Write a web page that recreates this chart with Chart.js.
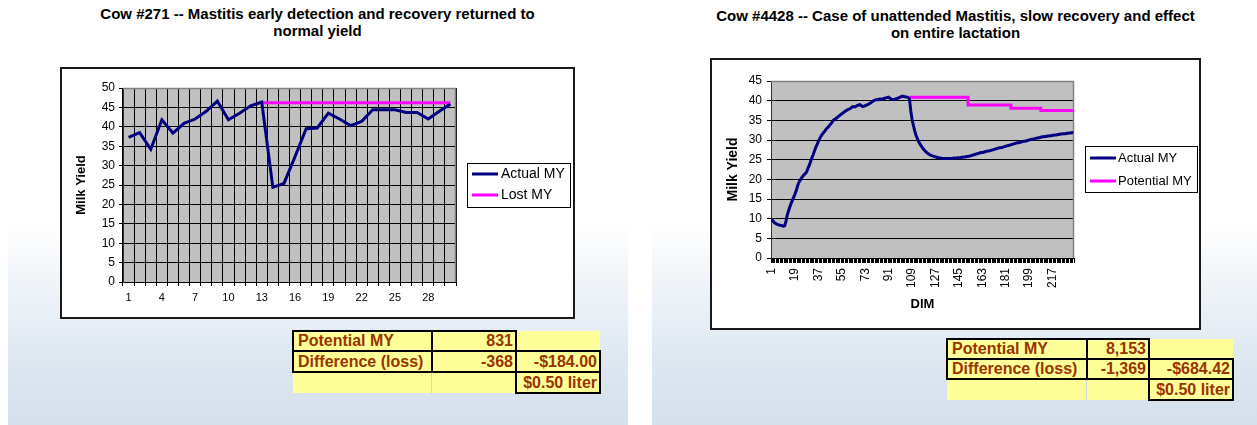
<!DOCTYPE html>
<html>
<head>
<meta charset="utf-8">
<script src="https://cdn.jsdelivr.net/npm/chart.js@4"></script>
<style>
  body { margin:0; width:1257px; height:425px; position:relative; background:#fff; overflow:hidden;
         font-family:'Liberation Sans', Arial, sans-serif; }
  .panel { position:absolute; top:0; height:425px;
           background:linear-gradient(180deg, #ffffff 0%, #ffffff 52%, #eef3f8 68%, #dde7f1 86%, #d3dfeb 100%); }
  .title { position:absolute; text-align:center; font-weight:bold; font-size:15px; line-height:17px; color:#000; }
  .box { position:absolute; background:#fff; }
  .box canvas { position:absolute; left:0; top:0; }
  .frame { position:absolute; left:0; top:0; right:0; bottom:0; border:2px solid #1a1a1a; pointer-events:none; }
  .cell { position:absolute; box-sizing:border-box; background:#ffff99; font-weight:bold; font-size:16px;
          color:#993300; white-space:nowrap; overflow:hidden; display:flex; align-items:center; padding:0 2px 0 4px; }
  .cell.n { justify-content:flex-end; }
  .cell.b { border:2px solid #000; }
  .cell.l { border-right:1px solid #cfd7e3; }
</style>
</head>
<body>
<div class="panel" style="left:8px; width:620px;"></div>
<div class="panel" style="left:652px; width:605px;"></div>

<div class="title" style="left:60px; top:5px; width:515px;">Cow #271 -- Mastitis early detection and recovery returned to<br>normal yield</div>
<div class="title" style="left:710px; top:7px; width:491px;">Cow #4428 -- Case of unattended Mastitis, slow recovery and effect<br>on entire lactation</div>

<div class="box" style="left:60px; top:67px; width:515px; height:252px;">
  <canvas id="cow271" width="515" height="252"></canvas>
  <div class="frame"></div>
</div>
<div class="box" style="left:710px; top:58px; width:491px; height:272px;">
  <canvas id="cow4428" width="491" height="272"></canvas>
  <div class="frame"></div>
</div>

<script>
// Cow #271 - daily milk yield, 30 days
var days271 = [1,2,3,4,5,6,7,8,9,10,11,12,13,14,15,16,17,18,19,20,21,22,23,24,25,26,27,28,29,30];
var actual271 = [37.3, 38.5, 34.2, 41.8, 38.4, 40.9, 42.0, 44.0, 46.6, 41.8,
                 43.5, 45.4, 46.4, 24.4, 25.4, 32.3, 39.5, 39.7, 43.5, 42.0,
                 40.3, 41.4, 44.4, 44.4, 44.4, 43.7, 43.7, 42.0, 44.0, 45.9];
var lost271 = [null, null, null, null, null, null, null, null, null, null,
               null, null, 46.2, 46.2, 46.2, 46.2, 46.2, 46.2, 46.2, 46.2,
               46.2, 46.2, 46.2, 46.2, 46.2, 46.2, 46.2, 46.2, 46.2, 46.2];
var shownDays271 = [1, 4, 7, 10, 13, 16, 19, 22, 25, 28];
var yTicks271 = [0, 50, 5];   // min, max, step
var table271 = [['Potential MY', '831', ''],
                ['Difference (loss)', '-368', '-$184.00'],
                ['', '', '$0.50 liter']];

// Cow #4428 - daily milk yield by DIM
var actual4428 = [
  9.8, 9.4, 9.0, 8.8, 8.6, 8.5, 8.3, 8.3, 8.2, 8.1,
  8.2, 9.3, 10.9, 12.0, 13.0, 13.9, 14.7, 15.5, 16.3, 17.2,
  18.4, 19.3, 19.8, 20.4, 20.8, 21.2, 21.5, 22.0, 22.9, 23.6,
  24.6, 25.5, 26.3, 27.3, 28.2, 28.9, 29.7, 30.4, 31.0, 31.5,
  31.9, 32.3, 32.8, 33.1, 33.5, 33.9, 34.3, 34.8, 35.2, 35.3,
  35.6, 35.9, 36.2, 36.4, 36.7, 36.9, 37.2, 37.4, 37.6, 37.8,
  37.9, 38.1, 38.4, 38.5, 38.4, 38.6, 38.8, 38.9, 39.0, 38.7,
  38.5, 38.6, 38.7, 38.9, 39.0, 39.2, 39.4, 39.7, 39.9, 40.1,
  40.2, 40.3, 40.2, 40.4, 40.4, 40.3, 40.5, 40.6, 40.7, 40.8,
  40.9, 40.6, 40.4, 40.3, 40.3, 40.4, 40.5, 40.6, 40.8, 40.9,
  41.1, 41.1, 41.0, 41.0, 40.9, 40.8, 40.4, 37.4, 35.2, 33.7,
  32.3, 31.2, 30.4, 29.6, 29.0, 28.5, 28.0, 27.6, 27.2, 26.9,
  26.6, 26.4, 26.2, 26.0, 25.9, 25.8, 25.7, 25.6, 25.5, 25.4,
  25.4, 25.3, 25.3, 25.3, 25.3, 25.3, 25.3, 25.3, 25.3, 25.3,
  25.4, 25.4, 25.4, 25.5, 25.5, 25.5, 25.6, 25.6, 25.7, 25.7,
  25.8, 25.8, 25.9, 26.0, 26.1, 26.2, 26.3, 26.4, 26.5, 26.6,
  26.7, 26.8, 26.8, 26.9, 27.0, 27.1, 27.2, 27.2, 27.3, 27.4,
  27.5, 27.6, 27.7, 27.8, 27.9, 28.0, 28.0, 28.1, 28.2, 28.3,
  28.4, 28.5, 28.6, 28.7, 28.8, 28.9, 29.0, 29.1, 29.2, 29.3,
  29.3, 29.4, 29.5, 29.6, 29.7, 29.7, 29.8, 29.9, 30.0, 30.1,
  30.2, 30.2, 30.3, 30.4, 30.5, 30.5, 30.6, 30.7, 30.8, 30.8,
  30.9, 30.9, 31.0, 31.0, 31.1, 31.1, 31.2, 31.2, 31.3, 31.3,
  31.4, 31.4, 31.5, 31.5, 31.6, 31.6, 31.6, 31.7, 31.7, 31.8,
  31.8, 31.9, 31.8
];
// potential yield steps (DIM where level starts, level)
var potentialDim4428 = [107, 152, 185, 208, 233];
var potential4428 = [40.9, 38.9, 38.1, 37.5, 37.5];
var shownDim4428 = [1, 19, 37, 55, 73, 91, 109, 127, 145, 163, 181, 199, 217];
var yTicks4428 = [0, 45, 5];
var table4428 = [['Potential MY', '8,153', ''],
                 ['Difference (loss)', '-1,369', '-$684.42'],
                 ['', '', '$0.50 liter']];

// which cells of the summary tables get a black box
var boxed = [[1, 1, 0], [1, 1, 1], [0, 0, 1]];

var dim4428 = actual4428.map(function(v, i){ return i + 1; });
var potentialPts = potentialDim4428.map(function(d, i){ return {x: d, y: potential4428[i]}; });

function makeTable(rows, colX, rowY){
  for (var r = 0; r < 3; r++) {
    for (var c = 0; c < 3; c++) {
      var d = document.createElement('div');
      var cls = 'cell';
      if (c > 0) cls += ' n';
      if (boxed[r][c]) cls += ' b';
      else if (r === 2 && c === 0) cls += ' l';
      d.className = cls;
      var grow = boxed[r][c] ? 1 : 0;
      d.style.left = (colX[c] - grow) + 'px';
      d.style.top = (rowY[r] - grow) + 'px';
      d.style.width = (colX[c + 1] - colX[c] + 2 * grow) + 'px';
      d.style.height = (rowY[r + 1] - rowY[r] + 2 * grow) + 'px';
      d.textContent = rows[r][c];
      if (!boxed[r][c]) d.style.zIndex = 0; else d.style.zIndex = 1;
      document.body.appendChild(d);
    }
  }
}
makeTable(table271, [293, 432, 516, 600], [331, 351, 372, 393]);
makeTable(table4428, [947, 1087, 1149, 1233], [339, 359, 379, 400]);

Chart.defaults.font.family = "'Liberation Sans', Arial, sans-serif";
Chart.defaults.color = '#000';

var plotFrame = {
  id: 'plotFrame',
  beforeDraw: function(chart){
    var a = chart.chartArea, ctx = chart.ctx;
    ctx.save();
    ctx.fillStyle = '#c0c0c0';
    ctx.fillRect(a.left, a.top, a.right - a.left, a.bottom - a.top);
    ctx.restore();
  },
  beforeDatasetsDraw: function(chart){
    var a = chart.chartArea, ctx = chart.ctx;
    ctx.save();
    ctx.strokeStyle = '#808080';
    ctx.lineWidth = 1.5;
    ctx.beginPath();
    ctx.moveTo(a.left, a.top + 0.5);
    ctx.lineTo(a.right - 0.5, a.top + 0.5);
    ctx.lineTo(a.right - 0.5, a.bottom);
    ctx.stroke();
    ctx.restore();
  },
  afterDraw: function(chart, args, opts){
    var ctx = chart.ctx;
    ctx.save();
    ctx.fillStyle = '#fff';
    ctx.fillRect(opts.x, opts.y, opts.w, opts.h);
    ctx.strokeStyle = '#000';
    ctx.lineWidth = 1;
    ctx.strokeRect(opts.x + 0.5, opts.y + 0.5, opts.w, opts.h);
    ctx.font = opts.fontSize + "px 'Liberation Sans', Arial, sans-serif";
    ctx.textBaseline = 'middle';
    chart.data.datasets.forEach(function(ds, i){
      var y = opts.rows[i];
      ctx.strokeStyle = ds.borderColor;
      ctx.lineWidth = 3;
      ctx.beginPath();
      ctx.moveTo(opts.lineX[0], y);
      ctx.lineTo(opts.lineX[1], y);
      ctx.stroke();
      ctx.fillStyle = '#000';
      ctx.fillText(ds.label, opts.textX, y);
    });
    ctx.restore();
  }
};

function shownCallback(list){
  return function(value){
    var lab = this.getLabelForValue(value);
    return list.indexOf(Number(lab)) >= 0 ? String(lab) : '';
  };
}

new Chart(document.getElementById('cow271'), {
  type: 'line',
  data: {
    labels: days271,
    datasets: [
      { label: 'Actual MY', data: actual271, borderColor: '#000080', borderWidth: 3, pointRadius: 0, tension: 0 },
      { label: 'Lost MY', data: lost271, borderColor: '#ff00ff', borderWidth: 3, pointRadius: 0, tension: 0 }
    ]
  },
  options: {
    responsive: false,
    animation: false,
    layout: { padding: { left: 0, top: 21, right: 119, bottom: 0 } },
    plugins: {
      legend: { display: false },
      tooltip: { enabled: false },
      plotFrame: { x: 407, y: 96, w: 103, h: 44, rows: [107, 128], lineX: [412, 438], textX: 441, fontSize: 14 }
    },
    scales: {
      x: {
        offset: true,
        grid: { offset: true, color: '#000', lineWidth: 1, tickLength: 4 },
        border: { color: '#000', width: 1 },
        ticks: { autoSkip: false, maxRotation: 0, padding: 5, font: { size: 11 }, callback: shownCallback(shownDays271) },
        afterFit: function(s){ s.height = 37; }
      },
      y: {
        min: yTicks271[0], max: yTicks271[1],
        grid: { color: '#000', lineWidth: 1, tickLength: 4 },
        border: { color: '#333', width: 1 },
        ticks: { stepSize: yTicks271[2], padding: 4, font: { size: 12 } },
        title: { display: true, text: 'Milk Yield', font: { size: 13, weight: 'bold' }, padding: { top: 14, bottom: 0 } },
        afterFit: function(s){ s.width = 63; }
      }
    }
  },
  plugins: [plotFrame]
});

new Chart(document.getElementById('cow4428'), {
  type: 'line',
  data: {
    labels: dim4428,
    datasets: [
      { label: 'Actual MY', data: actual4428, borderColor: '#000080', borderWidth: 3, pointRadius: 0, tension: 0 },
      { label: 'Potential MY', data: potentialPts, borderColor: '#ff00ff', borderWidth: 3, pointRadius: 0, stepped: 'before' }
    ]
  },
  options: {
    responsive: false,
    animation: false,
    layout: { padding: { left: 0, top: 23, right: 127, bottom: 0 } },
    plugins: {
      legend: { display: false },
      tooltip: { enabled: false },
      plotFrame: { x: 375, y: 88, w: 112, h: 46, rows: [100, 123], lineX: [380, 406], textX: 408, fontSize: 13 }
    },
    scales: {
      x: {
        offset: true,
        grid: { offset: true, drawOnChartArea: false, color: '#000', lineWidth: 1, tickLength: 5 },
        border: { color: '#000', width: 1 },
        ticks: { autoSkip: false, minRotation: 90, maxRotation: 90, padding: 5, font: { size: 12 }, callback: shownCallback(shownDim4428) },
        title: { display: true, text: 'DIM', font: { size: 13, weight: 'bold' }, padding: { top: 0, bottom: 18 } },
        afterFit: function(s){ s.height = 72; }
      },
      y: {
        min: yTicks4428[0], max: yTicks4428[1],
        grid: { color: '#000', lineWidth: 1, tickLength: 4 },
        border: { color: '#333', width: 1 },
        ticks: { stepSize: yTicks4428[2], padding: 5, font: { size: 12 } },
        title: { display: true, text: 'Milk Yield', font: { size: 14, weight: 'bold' }, padding: { top: 15, bottom: 0 } },
        afterFit: function(s){ s.width = 61; }
      }
    }
  },
  plugins: [plotFrame]
});
</script>
</body>
</html>
